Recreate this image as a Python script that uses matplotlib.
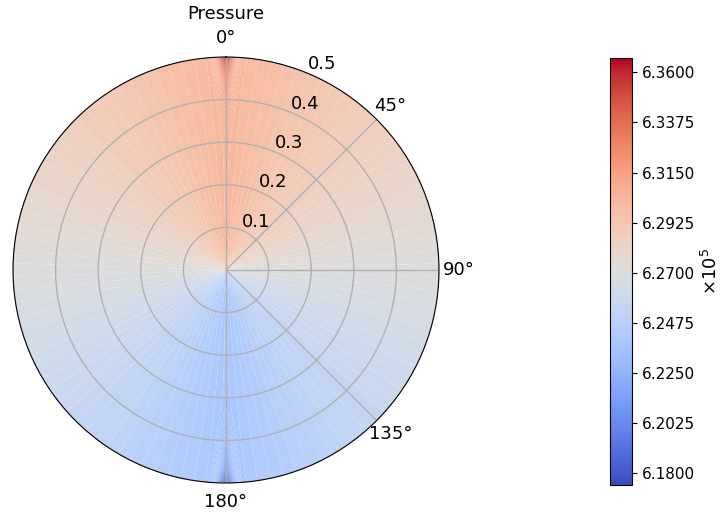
import numpy as np
import matplotlib.pyplot as plt

# pressure field in units of 1e5 Pa
p_mean = 6.2705        # level along the 90/270 deg line
p_swing = 0.032        # front-to-back variation, linear in angle
p_spike = 0.064        # extra peak right on the 0/180 deg axis at the rim
spike_width = 0.04     # rad
spike_falloff = 10

r_max = 0.5
r_ticks = [0.1, 0.2, 0.3, 0.4, 0.5]
theta_ticks = [0, 45, 90, 135, 180]
cbar_ticks = [6.18, 6.2025, 6.225, 6.2475, 6.27, 6.2925, 6.315, 6.3375, 6.36]
p_min, p_max = 6.1745, 6.3665

theta = np.linspace(0, 2 * np.pi, 1441)
r = np.linspace(0, r_max, 81)
T, R = np.meshgrid(theta, r)
# angular distance from the 0 deg axis, 0..pi
d = np.abs((T + np.pi) % (2 * np.pi) - np.pi)
shape = 1 - 2 * d / np.pi
near = np.minimum(d, np.pi - d)
P = (p_mean + p_swing * shape
     + p_spike * np.sign(shape) * (R / r_max) ** spike_falloff
     * np.exp(-(near / spike_width) ** 2))

fig = plt.figure(figsize=(7.2, 5.21), dpi=100)
ax = fig.add_axes([13 / 720, 38 / 521, 426 / 720, 426 / 521], projection='polar')
ax.set_theta_zero_location('N')
ax.set_theta_direction(-1)

levels = np.linspace(p_min, p_max, 150)
cf = ax.contourf(T, R, P, levels=levels, cmap='coolwarm',
                 vmin=p_min, vmax=p_max, antialiased=True)

ax.set_ylim(0, r_max)
ax.set_rticks(r_ticks)
ax.set_rlabel_position(22.5)
ax.set_thetagrids(theta_ticks, [f'{t}°' for t in theta_ticks])
ax.tick_params(labelsize=13)
ax.grid(True, color='#b0b0b0', linewidth=1)
ax.set_title('Pressure', fontsize=13, pad=7)

cax = fig.add_axes([610 / 720, 36 / 521, 22 / 720, 427 / 521])
cbar = fig.colorbar(cf, cax=cax, ticks=cbar_ticks, format='%.4f')
cbar.ax.tick_params(labelsize=11)
cbar.set_label('×10$^5$', fontsize=13)

fig.savefig('out.png', dpi=100)
